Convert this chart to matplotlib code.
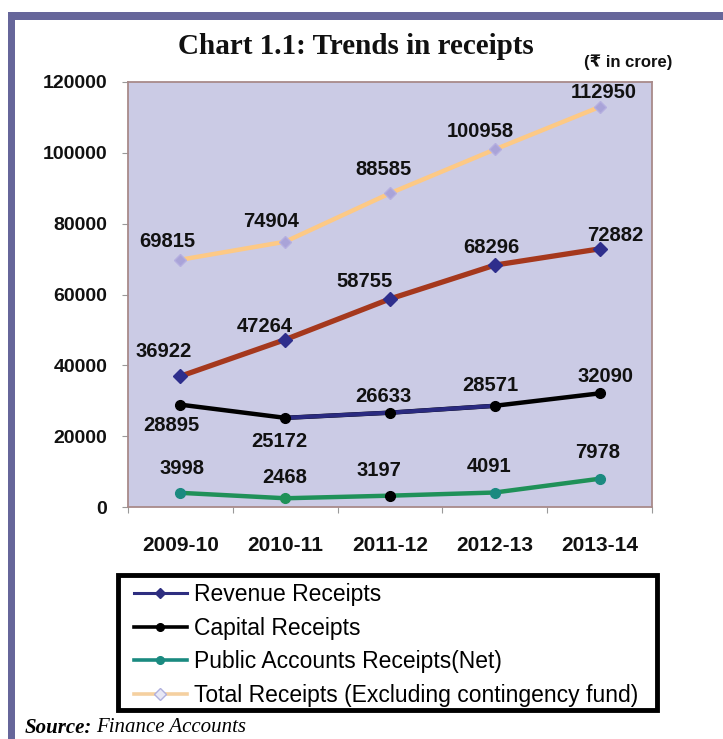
import matplotlib
matplotlib.use("Agg")
import matplotlib.pyplot as plt
from matplotlib.lines import Line2D
from matplotlib.patches import Rectangle
import numpy as np

years = ["2009-10", "2010-11", "2011-12", "2012-13", "2013-14"]
revenue = [36922, 47264, 58755, 68296, 72882]
capital = [28895, 25172, 26633, 28571, 32090]
public = [3998, 2468, 3197, 4091, 7978]
total = [69815, 74904, 88585, 100958, 112950]
yticks = [0, 20000, 40000, 60000, 80000, 100000, 120000]

series_names = ["Revenue Receipts", "Capital Receipts",
                "Public Accounts Receipts(Net)",
                "Total Receipts (Excluding contingency fund)"]

# label offsets in pixels (dx, dy up)
off_total = [(-13, 18), (-14, 20), (-7, 24), (-14, 18), (4, 14)]
off_rev = [(-17, 25), (-20, 13), (-25, 17), (-3, 18), (16, 13)]
off_cap = [(-9, -21), (-6, -24), (-7, 16), (-4, 20), (6, 17)]
off_pub = [(2, 24), (-1, 21), (-11, 25), (-6, 26), (-2, 26)]

W, H = 723, 739
fig = plt.figure(figsize=(W / 100, H / 100), dpi=100)
fig.patch.set_facecolor("white")

L, R, T, B = 128, 652, 82, 507
ax = fig.add_axes([L / W, 1 - B / H, (R - L) / W, (B - T) / H])
ax.set_facecolor("#cbcbe5")

x = np.arange(len(years))
sans = ["Liberation Sans", "DejaVu Sans"]
serif = ["Liberation Serif", "DejaVu Serif"]

# Total
ax.plot(x, total, color="#fdc985", lw=3.2, zorder=2, solid_capstyle="round")
ax.plot(x, total, ls="none", marker="D", ms=6.5, mfc="#a9a3d8", mec="#b5afe0", zorder=3)
# Revenue
ax.plot(x, revenue, color="#a5381d", lw=3.8, zorder=2)
ax.plot(x, revenue, ls="none", marker="D", ms=7.5, mfc="#2e2e8c", mec="#2e2e8c", zorder=3)
# Capital
ax.plot(x, capital, color="black", lw=3.2, zorder=2)
ax.plot(x[1:4], capital[1:4], color="#2a2a80", lw=3.0, zorder=2.5)
ax.plot(x, capital, ls="none", marker="o", ms=7, mfc="black", mec="black", zorder=3)
# Public
ax.plot(x, public, color="#1f9158", lw=3.2, zorder=2)
pub_mfc = ["#1b8a80", "#1f9158", "black", "#1b8a80", "#1b8a80"]
for xi, yi, c in zip(x, public, pub_mfc):
    ax.plot([xi], [yi], ls="none", marker="o", ms=7, mfc=c, mec=c, zorder=3)

def labels(vals, offs):
    for xi, v, (dx, dy) in zip(x, vals, offs):
        ax.annotate(f"{v}", (xi, v), xytext=(dx, dy), textcoords="offset pixels",
                    ha="center", va="center", fontsize=14.5, fontweight="bold",
                    family=sans, color="#111111", zorder=5, annotation_clip=False)

labels(total, off_total)
labels(revenue, off_rev)
labels(capital, off_cap)
labels(public, off_pub)

ax.set_xlim(-0.5, 4.5)
ax.set_ylim(0, 120000)
ax.set_yticks(yticks)
ax.set_yticklabels([str(v) for v in yticks], fontsize=14, fontweight="bold",
                   family=sans, color="#111111")
ax.set_xticks(np.arange(-0.5, 4.6, 1.0))
ax.set_xticklabels([])
ax.set_xticks(x, minor=True)
ax.set_xticklabels(years, minor=True, fontsize=15, fontweight="bold",
                   family=sans, color="#111111")
ax.tick_params(axis="x", which="minor", length=0, pad=21)
ax.tick_params(axis="x", which="major", length=4, color="#999999", direction="out")
ax.tick_params(axis="y", length=4, color="#999999", pad=11)
for s in ax.spines.values():
    s.set_color("#a88a8a")
    s.set_linewidth(1.3)

# Title and unit
fig.text(356 / W, 1 - 47 / H, "Chart 1.1: Trends in receipts", ha="center", va="center",
         fontsize=21, fontweight="bold", family=serif, color="#111111")
fig.text(628 / W, 1 - 62 / H, "(\u20b9 in crore)", ha="center", va="center",
         fontsize=12, fontweight="bold", family=sans, color="#111111")

# Legend (frame drawn separately)
handles = [
    Line2D([], [], color="#2e2e80", lw=2.2, marker="D", ms=5.5, mfc="#2e2e80", mec="#2e2e80"),
    Line2D([], [], color="black", lw=2.6, marker="o", ms=5.5, mfc="black"),
    Line2D([], [], color="#1a8a80", lw=2.6, marker="o", ms=5.5, mfc="#1a8a80", mec="#1a8a80"),
    Line2D([], [], color="#f5d0a0", lw=2.6, marker="D", ms=6, mfc="#e8e8f5", mec="#b0b0dd"),
]
leg = fig.legend(handles, series_names, loc="upper left",
                 bbox_to_anchor=(134 / W, 1 - 583 / H), frameon=False,
                 prop={"family": sans, "size": 16.5}, handlelength=2.3, handletextpad=0.3,
                 labelspacing=0.46, borderpad=0, borderaxespad=0)
fig.add_artist(Rectangle((118 / W, 1 - 710 / H), (657 - 118) / W, (710 - 575) / H,
                         transform=fig.transFigure, facecolor="none",
                         edgecolor="black", linewidth=3.5))

# Source
fig.canvas.draw()
t1 = fig.text(25 / W, 1 - 728 / H, "Source:", ha="left", va="center", fontsize=15,
              fontweight="bold", style="italic", family=serif)
bb = t1.get_window_extent(renderer=fig.canvas.get_renderer())
fig.text((bb.x1 + 4) / W, 1 - 728 / H, "Finance Accounts", ha="left", va="center",
         fontsize=15, style="italic", family=serif)

# Outer frame
fig.add_artist(Rectangle((8 / W, 1 - 20 / H), (W - 8) / W, 8 / H, transform=fig.transFigure,
                         facecolor="#66669a", edgecolor="none"))
fig.add_artist(Rectangle((8 / W, 0), 7 / W, 1 - 12 / H, transform=fig.transFigure,
                         facecolor="#66669a", edgecolor="none"))

fig.savefig("out.png", dpi=100)
